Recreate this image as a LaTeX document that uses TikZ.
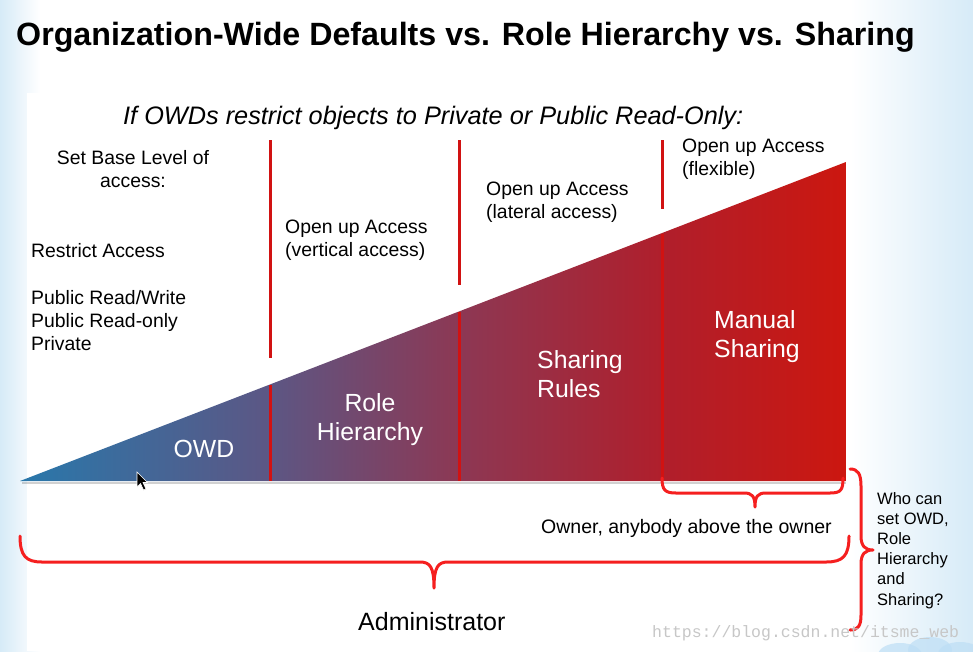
\documentclass[tikz,border=0pt]{standalone}
\usepackage{fontspec}
\setmainfont{Liberation Sans}
\setmonofont{Liberation Mono}
\definecolor{divred}{rgb}{0.82,0.07,0.07}
\definecolor{bracered}{rgb}{0.96,0.12,0.12}
\definecolor{edgeblue}{rgb}{0.84,0.92,0.97}
\definecolor{cloudblue}{rgb}{0.74,0.87,0.96}
\definecolor{wmgray}{rgb}{0.78,0.78,0.78}
\pgfdeclarehorizontalshading{tri}{100bp}{rgb(0bp)=(0.16,0.47,0.67); rgb(25bp)=(0.16,0.47,0.67); rgb(40bp)=(0.36,0.34,0.52); rgb(51.5bp)=(0.55,0.22,0.33); rgb(64bp)=(0.69,0.12,0.17); rgb(75bp)=(0.80,0.09,0.06); rgb(100bp)=(0.80,0.09,0.06)}
\begin{document}
\begin{tikzpicture}[x=1pt,y=-1pt,
  lab/.style={inner sep=0pt, anchor=base west, font=\fontsize{19.4}{23}\selectfont},
  labc/.style={inner sep=0pt, anchor=base, font=\fontsize{19.4}{23}\selectfont},
  big/.style={inner sep=0pt, anchor=base west, text=white, font=\fontsize{24.8}{29}\selectfont},
  bigc/.style={inner sep=0pt, anchor=base, text=white, font=\fontsize{24.8}{29}\selectfont},
  who/.style={inner sep=0pt, anchor=base west, font=\fontsize{16.5}{20}\selectfont},
  divider/.style={draw=divred, line width=3pt},
  bracket/.style={draw=bracered, line width=3pt, line cap=round, line join=round}]
% background
\useasboundingbox (0,0) rectangle (973,651);
\fill[white] (0,0) rectangle (973,651);
\shade[left color=edgeblue, right color=white] (0,0) rectangle (40,651);
\shade[left color=white, right color=edgeblue] (850,0) rectangle (973,651);
\fill[white] (27,93) rectangle (850,651);
% cloud
\fill[cloudblue, opacity=0.7] (900,655) ellipse [x radius=22, y radius=12];
\fill[cloudblue, opacity=0.7] (930,650) ellipse [x radius=22, y radius=13];
\fill[cloudblue, opacity=0.7] (960,654) ellipse [x radius=22, y radius=12];
% title
\node[inner sep=0pt, anchor=base west, font=\fontsize{32.2}{38}\selectfont\bfseries] (title) at (16,45) {Organization-Wide Defaults vs. Role Hierarchy vs. Sharing};
\node[inner sep=0pt, anchor=base west, font=\fontsize{25.3}{30}\selectfont\itshape] (sub) at (123,124) {If OWDs restrict objects to Private or Public Read-Only:};
% triangle
\draw[black, opacity=0.18, line width=2pt] (22,483) -- (846,483);
\path[shading=tri] (20,481) -- (846,481) -- (846,162) -- cycle;
% dividers
\draw[divider] (270,140) -- (270,358);
\draw[divider] (270,385) -- (270,481);
\draw[divider] (459,140) -- (459,285);
\draw[divider] (459,312) -- (459,481);
\draw[divider] (662,140) -- (662,209);
\draw[divider] (662,234) -- (662,481);
% left texts
\node[labc] (base1) at (133,164) {Set Base Level of};
\node[labc] (base2) at (133,187) {access:};
\node[lab] (restrict) at (31,257) {Restrict Access};
\node[lab] (prw) at (31,304) {Public Read/Write};
\node[lab] (pro) at (31,327) {Public Read-only};
\node[lab] (priv) at (31,350) {Private};
\node[lab] (v1) at (285,233) {Open up Access};
\node[lab] (v2) at (285,256) {(vertical access)};
\node[lab] (l1) at (486,195) {Open up Access};
\node[lab] (l2) at (486,218) {(lateral access)};
\node[lab] (f1) at (682,152) {Open up Access};
\node[lab] (f2) at (682,175) {(flexible)};
% labels in triangle
\node[bigc] (owd) at (204,457) {OWD};
\node[bigc] (role1) at (370,411) {Role};
\node[bigc] (role2) at (370,440) {Hierarchy};
\node[big] (sr1) at (537,368) {Sharing};
\node[big] (sr2) at (537,397) {Rules};
\node[big] (ms1) at (714,328) {Manual};
\node[big] (ms2) at (714,357) {Sharing};
% cursor
\filldraw[fill=black, draw=white, line width=0.6pt] (137,472) -- (137,487) -- (140.5,483.5) -- (143.5,490) -- (146,489) -- (143,482.5) -- (147.5,482.5) -- cycle;
% braces
\draw[bracket] (662,478) .. controls (662,490) and (665,493) .. (676,493) -- (744,493)
  .. controls (752,493) and (755,496) .. (755,507)
  .. controls (755,496) and (758,493) .. (766,493) -- (830,493)
  .. controls (841,493) and (843,490) .. (843,478);
\draw[bracket] (20,536) .. controls (20,556) and (26,562) .. (42,562) -- (420,562)
  .. controls (430,562) and (434,567) .. (434,588)
  .. controls (434,567) and (438,562) .. (448,562) -- (826,562)
  .. controls (843,562) and (849,556) .. (849,536);
\draw[bracket] (850,469) .. controls (858,469) and (861,474) .. (861,486) -- (861,536)
  .. controls (861,546) and (865,550) .. (873,550)
  .. controls (865,550) and (861,554) .. (861,564) -- (861,615)
  .. controls (861,626) and (858,630) .. (850,630);
% bottom texts
\node[inner sep=0pt, anchor=base west, font=\fontsize{19.5}{23}\selectfont] (owner) at (541,533) {Owner, anybody above the owner};
\node[inner sep=0pt, anchor=base west, font=\fontsize{25}{30}\selectfont] (admin) at (358,630) {Administrator};
\node[who] (w1) at (877,504) {Who can};
\node[who] (w2) at (877,524) {set OWD,};
\node[who] (w3) at (877,544) {Role};
\node[who] (w4) at (877,564) {Hierarchy};
\node[who] (w5) at (877,584) {and};
\node[who] (w6) at (877,605) {Sharing?};
% watermark
\node[inner sep=0pt, anchor=base west, text=wmgray, font=\fontsize{16.5}{20}\selectfont\ttfamily] (wm) at (652,637) {https://blog.csdn.net/itsme\_web};
\end{tikzpicture}
\end{document}
